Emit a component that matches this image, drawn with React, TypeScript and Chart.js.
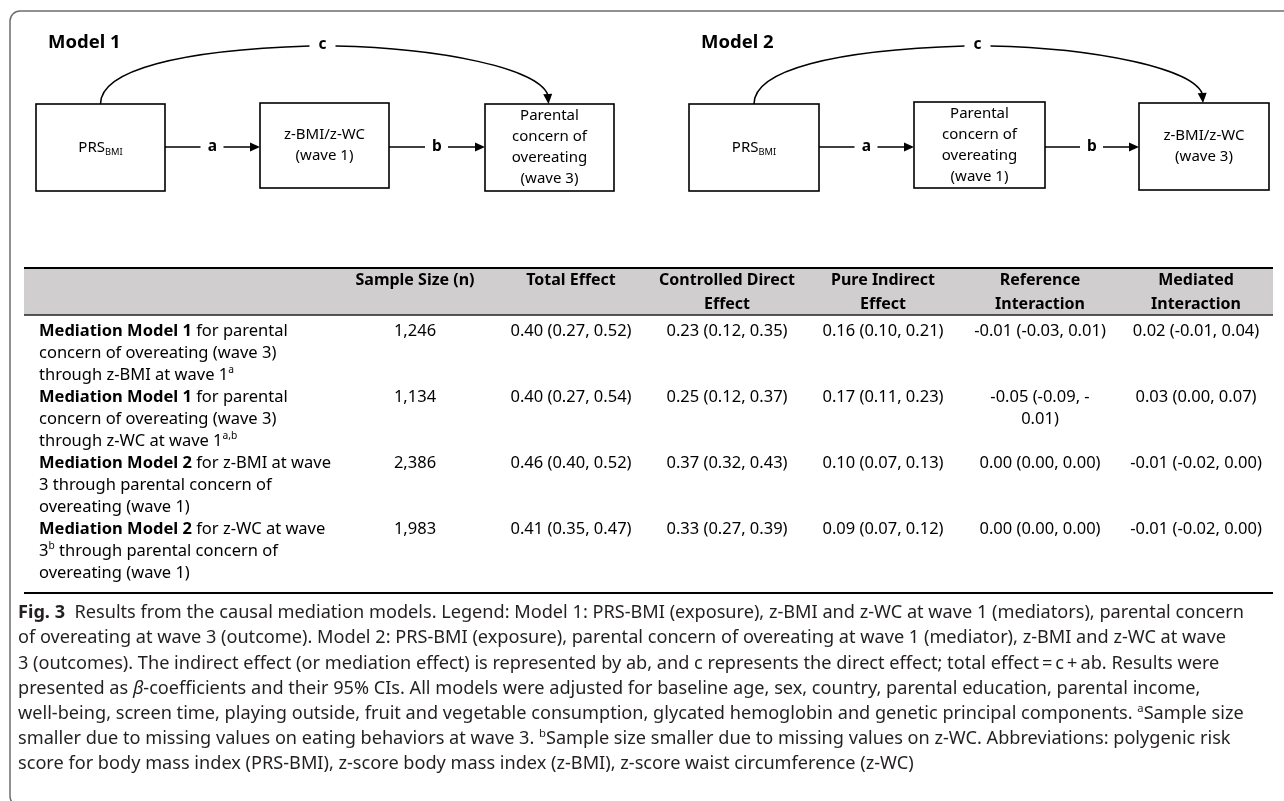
import React, { useEffect, useRef } from "react";
import { Chart, registerables } from "chart.js";

Chart.register(...registerables);

const FONT = '"Noto Sans", "Open Sans", "DejaVu Sans", sans-serif';

type Seg = { t: string; b?: boolean; i?: boolean; sup?: boolean; sub?: boolean };

// ---------------- Diagram content ----------------
const modelTitles = ["Model 1", "Model 2"];
const prsLabel: Seg[] = [{ t: "PRS" }, { t: "BMI", sub: true }];
const model1Nodes: Seg[][][] = [
  [prsLabel],
  [[{ t: "z-BMI/z-WC" }], [{ t: "(wave 1)" }]],
  [[{ t: "Parental" }], [{ t: "concern of" }], [{ t: "overeating" }], [{ t: "(wave 3)" }]],
];
const model2Nodes: Seg[][][] = [
  [prsLabel],
  [[{ t: "Parental" }], [{ t: "concern of" }], [{ t: "overeating" }], [{ t: "(wave 1)" }]],
  [[{ t: "z-BMI/z-WC" }], [{ t: "(wave 3)" }]],
];
const pathLabels = ["a", "b", "c"];

// ---------------- Table content ----------------
const columnHeaders = [
  ["Sample Size (n)"],
  ["Total Effect"],
  ["Controlled Direct", "Effect"],
  ["Pure Indirect", "Effect"],
  ["Reference", "Interaction"],
  ["Mediated", "Interaction"],
];
const rowLabels: Seg[][][] = [
  [[{ t: "Mediation Model 1", b: true }, { t: " for parental" }], [{ t: "concern of overeating (wave 3)" }], [{ t: "through z-BMI at wave 1" }, { t: "a", sup: true }]],
  [[{ t: "Mediation Model 1", b: true }, { t: " for parental" }], [{ t: "concern of overeating (wave 3)" }], [{ t: "through z-WC at wave 1" }, { t: "a,b", sup: true }]],
  [[{ t: "Mediation Model 2", b: true }, { t: " for z-BMI at wave" }], [{ t: "3 through parental concern of" }], [{ t: "overeating (wave 1)" }]],
  [[{ t: "Mediation Model 2", b: true }, { t: " for z-WC at wave" }], [{ t: "3" }, { t: "b", sup: true }, { t: " through parental concern of" }], [{ t: "overeating (wave 1)" }]],
];
const sampleSizes = [1246, 1134, 2386, 1983];
// [estimate, lower 95% CI, upper 95% CI]
const totalEffect = [[0.40, 0.27, 0.52], [0.40, 0.27, 0.54], [0.46, 0.40, 0.52], [0.41, 0.35, 0.47]];
const controlledDirectEffect = [[0.23, 0.12, 0.35], [0.25, 0.12, 0.37], [0.37, 0.32, 0.43], [0.33, 0.27, 0.39]];
const pureIndirectEffect = [[0.16, 0.10, 0.21], [0.17, 0.11, 0.23], [0.10, 0.07, 0.13], [0.09, 0.07, 0.12]];
const referenceInteraction = [[-0.01, -0.03, 0.01], [-0.05, -0.09, -0.01], [0.00, 0.00, 0.00], [0.00, 0.00, 0.00]];
const mediatedInteraction = [[0.02, -0.01, 0.04], [0.03, 0.00, 0.07], [-0.01, -0.02, 0.00], [-0.01, -0.02, 0.00]];

// ---------------- Caption ----------------
const captionLines: Seg[][] = [
  [{ t: "Fig. 3", b: true }, { t: "  Results from the causal mediation models. Legend: Model 1: PRS-BMI (exposure), z-BMI and z-WC at wave 1 (mediators), parental concern" }],
  [{ t: "of overeating at wave 3 (outcome). Model 2: PRS-BMI (exposure), parental concern of overeating at wave 1 (mediator), z-BMI and z-WC at wave" }],
  [{ t: "3 (outcomes). The indirect effect (or mediation effect) is represented by ab, and c represents the direct effect; total effect\u2009=\u2009c\u2009+\u2009ab. Results were" }],
  [{ t: "presented as " }, { t: "\u03B2", i: true }, { t: "-coefficients and their 95% CIs. All models were adjusted for baseline age, sex, country, parental education, parental income," }],
  [{ t: "well-being, screen time, playing outside, fruit and vegetable consumption, glycated hemoglobin and genetic principal components. " }, { t: "a", sup: true }, { t: "Sample size" }],
  [{ t: "smaller due to missing values on eating behaviors at wave 3. " }, { t: "b", sup: true }, { t: "Sample size smaller due to missing values on z-WC. Abbreviations: polygenic risk" }],
  [{ t: "score for body mass index (PRS-BMI), z-score body mass index (z-BMI), z-score waist circumference (z-WC)" }],
];

// ---------------- Layout (positions / sizes / styles) ----------------
const W = 1284;
const H = 801;
const FRAME = { x0: 10, y0: 11, x1: 1310, y1: 806, r: 10, color: "#6e6e6e" };
const TITLE_POS = [{ x: 48, y: 43 }, { x: 701, y: 43 }];
const BOXES = [
  [{ x0: 36, y0: 104, x1: 165, y1: 191 }, { x0: 260, y0: 103, x1: 389, y1: 188 }, { x0: 485, y0: 104, x1: 614, y1: 191 }],
  [{ x0: 689, y0: 104, x1: 819, y1: 191 }, { x0: 914, y0: 102, x1: 1045, y1: 188 }, { x0: 1139, y0: 103, x1: 1269, y1: 190 }],
];
const ARROW_Y = 147;
const CURVE_TOP = 46;
const NODE_FONT = 15;
const NODE_LINE = 21;
const TABLE = { x0: 24, x1: 1273, top: 268, headBottom: 315, bottom: 593 };
const HEAD_Y = [280, 304];
const COL_X = [415, 571, 727, 883, 1040, 1196];
const LABEL_X = 39;
const ROW_Y0 = 331;
const ROW_LINE = 22;
const CELL_MAX = 134;
const TABLE_FONT = 16.5;
const CAPTION = { x: 18, y0: 613, line: 25.2, maxW: 1227, color: "#231f20" };

// ---------------- helpers ----------------
function fontFor(s: Seg, size: number) {
  const sz = s.sup || s.sub ? size * 0.62 : size;
  return `${s.i ? "italic " : ""}${s.b ? "bold " : ""}${sz}px ${FONT}`;
}
function measureRich(ctx: CanvasRenderingContext2D, segs: Seg[], size: number) {
  let w = 0;
  for (const s of segs) {
    ctx.font = fontFor(s, size);
    w += ctx.measureText(s.t).width;
  }
  return w;
}
function drawRich(ctx: CanvasRenderingContext2D, segs: Seg[], x: number, y: number, size: number, align: "left" | "center") {
  const w = measureRich(ctx, segs, size);
  let cx = align === "center" ? x - w / 2 : x;
  ctx.textAlign = "left";
  ctx.textBaseline = "middle";
  for (const s of segs) {
    ctx.font = fontFor(s, size);
    const dy = s.sup ? -size * 0.3 : s.sub ? size * 0.3 : 0;
    ctx.fillText(s.t, cx, y + dy);
    cx += ctx.measureText(s.t).width;
  }
}
function fmt(v: number) {
  return v.toFixed(2);
}
function fmtCI(r: number[]) {
  return `${fmt(r[0])} (${fmt(r[1])}, ${fmt(r[2])})`;
}
function wrapCell(ctx: CanvasRenderingContext2D, text: string, maxW: number): string[] {
  if (ctx.measureText(text).width <= maxW) return [text];
  let best = -1;
  for (let i = 1; i < text.length; i++) {
    const ch = text[i - 1];
    const ok = ch === " " || (ch === "-" && text[i - 2] === " ");
    if (ok && ctx.measureText(text.slice(0, i).trimEnd()).width <= maxW) best = i;
  }
  if (best < 0) return [text];
  return [text.slice(0, best).trimEnd(), ...wrapCell(ctx, text.slice(best), maxW)];
}
function arrowHead(ctx: CanvasRenderingContext2D, x: number, y: number, dx: number, dy: number) {
  const len = 10, half = 4.5;
  const px = -dy, py = dx;
  ctx.beginPath();
  ctx.moveTo(x, y);
  ctx.lineTo(x - dx * len + px * half, y - dy * len + py * half);
  ctx.lineTo(x - dx * len - px * half, y - dy * len - py * half);
  ctx.closePath();
  ctx.fill();
}

const figurePlugin = {
  id: "mediationFigure",
  afterDatasetsDraw(chart: any) {
    const ctx: CanvasRenderingContext2D = chart.ctx;
    const X = (v: number) => chart.scales.x.getPixelForValue(v);
    const Y = (v: number) => chart.scales.y.getPixelForValue(v);
    ctx.save();

    // frame
    ctx.strokeStyle = FRAME.color;
    ctx.lineWidth = 1.5;
    ctx.beginPath();
    ctx.moveTo(X(FRAME.x1), Y(FRAME.y0));
    ctx.lineTo(X(FRAME.x0 + FRAME.r), Y(FRAME.y0));
    ctx.arcTo(X(FRAME.x0), Y(FRAME.y0), X(FRAME.x0), Y(FRAME.y0 + FRAME.r), FRAME.r);
    ctx.lineTo(X(FRAME.x0), Y(FRAME.y1 - FRAME.r));
    ctx.arcTo(X(FRAME.x0), Y(FRAME.y1), X(FRAME.x0 + FRAME.r), Y(FRAME.y1), FRAME.r);
    ctx.lineTo(X(FRAME.x1), Y(FRAME.y1));
    ctx.stroke();

    // diagrams
    const models = [model1Nodes, model2Nodes];
    ctx.fillStyle = "#000";
    ctx.strokeStyle = "#000";
    models.forEach((nodes, m) => {
      drawRich(ctx, [{ t: modelTitles[m], b: true }], X(TITLE_POS[m].x), Y(TITLE_POS[m].y), 18.5, "left");
      const boxes = BOXES[m];
      ctx.lineWidth = 1.6;
      boxes.forEach((b, k) => {
        ctx.strokeRect(X(b.x0), Y(b.y0), X(b.x1) - X(b.x0), Y(b.y1) - Y(b.y0));
        const lines = nodes[k];
        const cx = (X(b.x0) + X(b.x1)) / 2;
        const cy = (Y(b.y0) + Y(b.y1)) / 2;
        const start = cy - ((lines.length - 1) * NODE_LINE) / 2;
        lines.forEach((ln, j) => drawRich(ctx, ln, cx, start + j * NODE_LINE, NODE_FONT, "center"));
      });
      // straight arrows a, b
      ctx.lineWidth = 1.5;
      for (let k = 0; k < 2; k++) {
        const x0 = X(boxes[k].x1), x1 = X(boxes[k + 1].x0), y = Y(ARROW_Y);
        const mid = (x0 + x1) / 2;
        ctx.beginPath();
        ctx.moveTo(x0, y);
        ctx.lineTo(mid - 12, y);
        ctx.moveTo(mid + 11, y);
        ctx.lineTo(x1 - 6, y);
        ctx.stroke();
        arrowHead(ctx, x1, y, 1, 0);
        drawRich(ctx, [{ t: pathLabels[k], b: true }], mid, y, 15.5, "center");
      }
      // curved arrow c
      const sx = (X(boxes[0].x0) + X(boxes[0].x1)) / 2;
      const sy = Y(boxes[0].y0);
      const lx = (X(boxes[1].x0) + X(boxes[1].x1)) / 2 - 2;
      const ty = Y(CURVE_TOP);
      const ex = (X(boxes[2].x0) + X(boxes[2].x1)) / 2 - 1;
      const ey = Y(boxes[2].y0);
      ctx.beginPath();
      ctx.moveTo(sx, sy);
      ctx.bezierCurveTo(sx, ty + 24, sx + 80, ty + 4, lx - 13, ty);
      ctx.moveTo(lx + 13, ty);
      ctx.bezierCurveTo(lx + 115, ty + 2, ex - 6, ty + 22, ex, ey - 7);
      ctx.stroke();
      arrowHead(ctx, ex, ey, 0.08, 1);
      drawRich(ctx, [{ t: pathLabels[2], b: true }], lx, ty - 1, 15.5, "center");
    });

    // table
    ctx.fillStyle = "#d0cece";
    ctx.fillRect(X(TABLE.x0), Y(TABLE.top), X(TABLE.x1) - X(TABLE.x0), Y(TABLE.headBottom) - Y(TABLE.top));
    ctx.strokeStyle = "#000";
    ctx.lineWidth = 2;
    ctx.beginPath();
    ctx.moveTo(X(TABLE.x0), Y(TABLE.top));
    ctx.lineTo(X(TABLE.x1), Y(TABLE.top));
    ctx.stroke();
    ctx.lineWidth = 1.5;
    ctx.strokeStyle = "#222";
    ctx.beginPath();
    ctx.moveTo(X(TABLE.x0), Y(TABLE.headBottom));
    ctx.lineTo(X(TABLE.x1), Y(TABLE.headBottom));
    ctx.stroke();
    ctx.lineWidth = 2;
    ctx.strokeStyle = "#000";
    ctx.beginPath();
    ctx.moveTo(X(TABLE.x0), Y(TABLE.bottom));
    ctx.lineTo(X(TABLE.x1), Y(TABLE.bottom));
    ctx.stroke();

    ctx.fillStyle = "#000";
    columnHeaders.forEach((lines, c) => {
      lines.forEach((ln, j) => drawRich(ctx, [{ t: ln, b: true }], X(COL_X[c]), Y(HEAD_Y[j]), 16, "center"));
    });
    const columns = [
      sampleSizes.map((n) => n.toLocaleString("en-US")),
      totalEffect.map(fmtCI),
      controlledDirectEffect.map(fmtCI),
      pureIndirectEffect.map(fmtCI),
      referenceInteraction.map(fmtCI),
      mediatedInteraction.map(fmtCI),
    ];
    rowLabels.forEach((lines, r) => {
      const ry = ROW_Y0 + r * 3 * ROW_LINE;
      lines.forEach((ln, j) => drawRich(ctx, ln, X(LABEL_X), Y(ry + j * ROW_LINE), TABLE_FONT, "left"));
      columns.forEach((col, c) => {
        ctx.font = `${TABLE_FONT}px ${FONT}`;
        const parts = wrapCell(ctx, col[r], CELL_MAX);
        parts.forEach((p, j) => drawRich(ctx, [{ t: p }], X(COL_X[c]), Y(ry + j * ROW_LINE), TABLE_FONT, "center"));
      });
    });

    // caption
    let maxW = 0;
    captionLines.forEach((ln) => (maxW = Math.max(maxW, measureRich(ctx, ln, 100))));
    const capSize = (100 * CAPTION.maxW) / maxW;
    ctx.fillStyle = CAPTION.color;
    captionLines.forEach((ln, j) => drawRich(ctx, ln, X(CAPTION.x), Y(CAPTION.y0 + j * CAPTION.line), capSize, "left"));

    ctx.restore();
  },
};

export default function App() {
  const ref = useRef<HTMLCanvasElement | null>(null);
  useEffect(() => {
    if (!ref.current) return;
    const nodeCenters = BOXES.flat().map((b) => ({ x: (b.x0 + b.x1) / 2, y: (b.y0 + b.y1) / 2 }));
    const chart = new Chart(ref.current, {
      type: "scatter",
      data: { datasets: [{ label: "nodes", data: nodeCenters, pointRadius: 0, pointHoverRadius: 0 }] },
      options: {
        animation: false,
        responsive: true,
        maintainAspectRatio: false,
        layout: { padding: 0 },
        events: [],
        plugins: { legend: { display: false }, tooltip: { enabled: false }, title: { display: false } },
        scales: {
          x: { type: "linear", min: 0, max: W, display: false },
          y: { type: "linear", min: 0, max: H, reverse: true, display: false },
        },
      },
      plugins: [figurePlugin],
    });
    return () => chart.destroy();
  }, []);
  return (
    <div style={{ position: "fixed", left: 0, top: 0, width: W, height: H, background: "#fff" }}>
      <canvas ref={ref} />
    </div>
  );
}
